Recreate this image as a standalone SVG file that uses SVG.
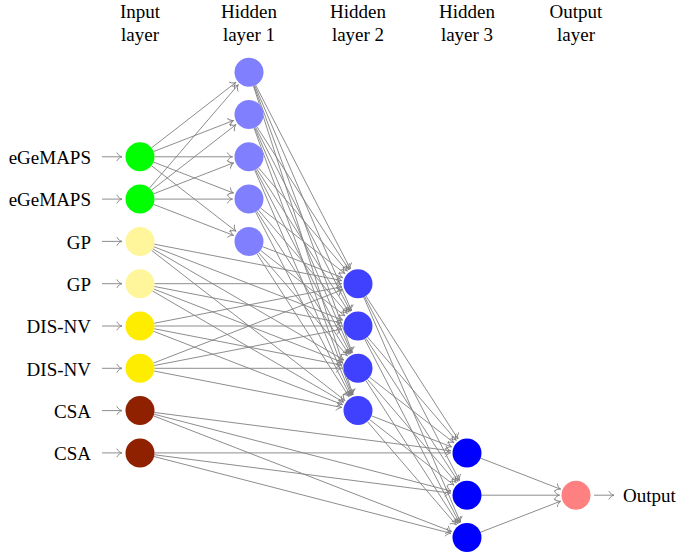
<svg xmlns="http://www.w3.org/2000/svg" width="678" height="554" viewBox="0 0 678 554">
<style>
text{font-family:"Liberation Serif","Times New Roman",serif;font-size:19px;fill:#000}
.h{text-anchor:middle}
.l{text-anchor:end}
.c line{stroke:#808080;stroke-width:0.9;fill:none;marker-end:url(#a)}
</style>
<defs>
<marker id="a" markerUnits="userSpaceOnUse" markerWidth="12" markerHeight="12" viewBox="-8 -6 10 12" refX="0" refY="0" orient="auto" overflow="visible">
<path d="M-5,-3.9 C-3.9,-1.5 -1.3,-0.3 0,0 C-1.3,0.3 -3.9,1.5 -5,3.9" fill="none" stroke="#808080" stroke-width="0.9" stroke-linecap="round"/>
</marker>
</defs>
<g id="headers">
<text class="h" x="140" y="18">Input</text><text class="h" x="140" y="40.5">layer</text>
<text class="h" x="249" y="18">Hidden</text><text class="h" x="249" y="40.5">layer 1</text>
<text class="h" x="358" y="18">Hidden</text><text class="h" x="358" y="40.5">layer 2</text>
<text class="h" x="467" y="18">Hidden</text><text class="h" x="467" y="40.5">layer 3</text>
<text class="h" x="576" y="18">Output</text><text class="h" x="576" y="40.5">layer</text>
</g>
<g class="c" id="connectors">
<line x1="102" y1="156.8" x2="122" y2="156.8"/>
<line x1="102" y1="199.1" x2="122" y2="199.1"/>
<line x1="102" y1="241.4" x2="122" y2="241.4"/>
<line x1="102" y1="283.7" x2="122" y2="283.7"/>
<line x1="102" y1="326" x2="122" y2="326"/>
<line x1="102" y1="368.3" x2="122" y2="368.3"/>
<line x1="102" y1="410.6" x2="122" y2="410.6"/>
<line x1="102" y1="452.9" x2="122" y2="452.9"/>
<line x1="151.46" y1="147.91" x2="235.96" y2="82.32"/>
<line x1="153.52" y1="151.55" x2="233.62" y2="120.47"/>
<line x1="154.5" y1="156.8" x2="232.5" y2="156.8"/>
<line x1="153.52" y1="162.05" x2="233.62" y2="193.13"/>
<line x1="151.46" y1="165.69" x2="235.96" y2="231.28"/>
<line x1="149.45" y1="188.1" x2="238.25" y2="84.72"/>
<line x1="151.46" y1="190.21" x2="235.96" y2="124.62"/>
<line x1="153.52" y1="193.85" x2="233.62" y2="162.77"/>
<line x1="154.5" y1="199.1" x2="232.5" y2="199.1"/>
<line x1="153.52" y1="204.35" x2="233.62" y2="235.43"/>
<line x1="255.64" y1="85.09" x2="350.44" y2="269.03"/>
<line x1="254.72" y1="85.52" x2="351.49" y2="310.84"/>
<line x1="254.01" y1="85.81" x2="352.30" y2="352.82"/>
<line x1="253.45" y1="86.0" x2="352.94" y2="394.9"/>
<line x1="256.85" y1="126.69" x2="349.06" y2="269.83"/>
<line x1="255.64" y1="127.39" x2="350.44" y2="311.33"/>
<line x1="254.72" y1="127.82" x2="351.49" y2="353.14"/>
<line x1="254.01" y1="128.11" x2="352.30" y2="395.12"/>
<line x1="258.45" y1="167.8" x2="347.25" y2="271.18"/>
<line x1="256.85" y1="168.99" x2="349.06" y2="312.13"/>
<line x1="255.64" y1="169.69" x2="350.44" y2="353.63"/>
<line x1="254.72" y1="170.12" x2="351.49" y2="395.44"/>
<line x1="260.46" y1="207.99" x2="344.96" y2="273.58"/>
<line x1="258.45" y1="210.1" x2="347.25" y2="313.48"/>
<line x1="256.85" y1="211.29" x2="349.06" y2="354.43"/>
<line x1="255.64" y1="211.99" x2="350.44" y2="395.93"/>
<line x1="262.52" y1="246.65" x2="342.62" y2="277.73"/>
<line x1="260.46" y1="250.29" x2="344.96" y2="315.88"/>
<line x1="258.45" y1="252.4" x2="347.25" y2="355.78"/>
<line x1="256.85" y1="253.59" x2="349.06" y2="396.73"/>
<line x1="154.23" y1="244.16" x2="341.8" y2="280.56"/>
<line x1="153.52" y1="246.65" x2="342.62" y2="320.03"/>
<line x1="152.53" y1="248.69" x2="343.74" y2="360.0"/>
<line x1="151.46" y1="250.29" x2="344.96" y2="400.48"/>
<line x1="154.5" y1="283.7" x2="341.5" y2="283.7"/>
<line x1="154.23" y1="286.46" x2="341.8" y2="322.86"/>
<line x1="153.52" y1="288.95" x2="342.62" y2="362.33"/>
<line x1="152.53" y1="290.99" x2="343.74" y2="402.3"/>
<line x1="154.23" y1="323.24" x2="341.8" y2="286.84"/>
<line x1="154.5" y1="326" x2="341.5" y2="326"/>
<line x1="154.23" y1="328.76" x2="341.8" y2="365.16"/>
<line x1="153.52" y1="331.25" x2="342.62" y2="404.63"/>
<line x1="153.52" y1="363.05" x2="342.62" y2="289.67"/>
<line x1="154.23" y1="365.54" x2="341.8" y2="329.14"/>
<line x1="154.5" y1="368.3" x2="341.5" y2="368.3"/>
<line x1="154.23" y1="371.06" x2="341.8" y2="407.46"/>
<line x1="365.85" y1="295.89" x2="458.06" y2="439.03"/>
<line x1="364.64" y1="296.59" x2="459.44" y2="480.53"/>
<line x1="363.72" y1="297.02" x2="460.49" y2="522.34"/>
<line x1="367.45" y1="337.0" x2="456.25" y2="440.38"/>
<line x1="365.85" y1="338.19" x2="458.06" y2="481.33"/>
<line x1="364.64" y1="338.89" x2="459.44" y2="522.83"/>
<line x1="369.46" y1="377.19" x2="453.96" y2="442.78"/>
<line x1="367.45" y1="379.3" x2="456.25" y2="482.68"/>
<line x1="365.85" y1="380.49" x2="458.06" y2="523.63"/>
<line x1="371.52" y1="415.85" x2="451.62" y2="446.93"/>
<line x1="369.46" y1="419.49" x2="453.96" y2="485.08"/>
<line x1="367.45" y1="421.6" x2="456.25" y2="524.98"/>
<line x1="154.38" y1="412.46" x2="450.64" y2="450.78"/>
<line x1="154.04" y1="414.23" x2="451.03" y2="491.07"/>
<line x1="153.52" y1="415.85" x2="451.62" y2="531.53"/>
<line x1="154.5" y1="452.9" x2="450.5" y2="452.9"/>
<line x1="154.38" y1="454.76" x2="450.64" y2="493.08"/>
<line x1="154.04" y1="456.53" x2="451.03" y2="533.37"/>
<line x1="480.52" y1="458.15" x2="560.62" y2="489.23"/>
<line x1="481.5" y1="495.2" x2="559.5" y2="495.2"/>
<line x1="480.52" y1="532.25" x2="560.62" y2="501.17"/>
<line x1="594" y1="495.2" x2="614" y2="495.2"/>
</g>
<g id="in1"><circle cx="140" cy="156.8" r="14.5" fill="#00ff00"/><text class="l" x="91" y="164">eGeMAPS</text></g>
<g id="in2"><circle cx="140" cy="199.1" r="14.5" fill="#00ff00"/><text class="l" x="91" y="206.3">eGeMAPS</text></g>
<g id="in3"><circle cx="140" cy="241.4" r="14.5" fill="#fff59b"/><text class="l" x="91" y="248.6">GP</text></g>
<g id="in4"><circle cx="140" cy="283.7" r="14.5" fill="#fff59b"/><text class="l" x="91" y="290.9">GP</text></g>
<g id="in5"><circle cx="140" cy="326" r="14.5" fill="#ffed00"/><text class="l" x="91" y="333.2">DIS-NV</text></g>
<g id="in6"><circle cx="140" cy="368.3" r="14.5" fill="#ffed00"/><text class="l" x="91" y="375.5">DIS-NV</text></g>
<g id="in7"><circle cx="140" cy="410.6" r="14.5" fill="#8f2000"/><text class="l" x="91" y="417.8">CSA</text></g>
<g id="in8"><circle cx="140" cy="452.9" r="14.5" fill="#8f2000"/><text class="l" x="91" y="460.1">CSA</text></g>
<g id="h1a"><circle cx="249" cy="72.2" r="14.5" fill="#8080ff"/></g>
<g id="h1b"><circle cx="249" cy="114.5" r="14.5" fill="#8080ff"/></g>
<g id="h1c"><circle cx="249" cy="156.8" r="14.5" fill="#8080ff"/></g>
<g id="h1d"><circle cx="249" cy="199.1" r="14.5" fill="#8080ff"/></g>
<g id="h1e"><circle cx="249" cy="241.4" r="14.5" fill="#8080ff"/></g>
<g id="h2a"><circle cx="358" cy="283.7" r="14.5" fill="#4040ff"/></g>
<g id="h2b"><circle cx="358" cy="326" r="14.5" fill="#4040ff"/></g>
<g id="h2c"><circle cx="358" cy="368.3" r="14.5" fill="#4040ff"/></g>
<g id="h2d"><circle cx="358" cy="410.6" r="14.5" fill="#4040ff"/></g>
<g id="h3a"><circle cx="467" cy="452.9" r="14.5" fill="#0000ff"/></g>
<g id="h3b"><circle cx="467" cy="495.2" r="14.5" fill="#0000ff"/></g>
<g id="h3c"><circle cx="467" cy="537.5" r="14.5" fill="#0000ff"/></g>
<g id="out"><circle cx="576" cy="495.2" r="14.5" fill="#ff8080"/><text x="623" y="502.4">Output</text></g>
</svg>
